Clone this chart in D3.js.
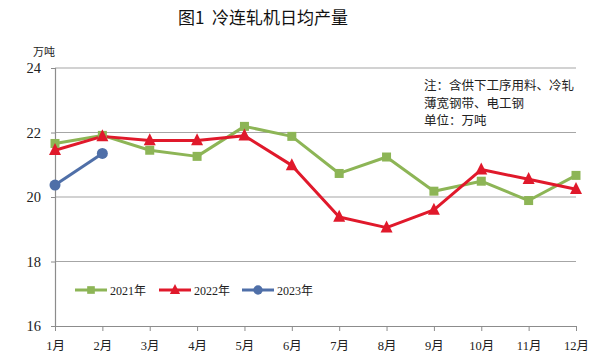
<!DOCTYPE html>
<html><head><meta charset="utf-8">
<script src="https://cdn.jsdelivr.net/npm/d3@7"></script>
<style>body{margin:0;background:#fff}svg{display:block}</style>
</head><body>
<svg id="c" width="600" height="360"></svg>
<script>
const months = ["1月","2月","3月","4月","5月","6月","7月","8月","9月","10月","11月","12月"];
const y2021 = [21.66,21.91,21.45,21.26,22.19,21.88,20.73,21.24,20.18,20.49,19.89,20.67];
const y2022 = [21.45,21.88,21.75,21.75,21.9,20.98,19.38,19.05,19.6,20.85,20.55,20.24];
const y2023 = [20.37,21.35];
const yTicks = [16,18,20,22,24];
const seriesNames = ["2021年","2022年","2023年"];

const svg = d3.select("#c");
const x = d3.scalePoint().domain(months).range([55,576]);
const y = d3.scaleLinear().domain([16,24]).range([326,68]);
const serif = "'Liberation Serif','Noto Sans CJK SC',serif";
const cjk = "'Noto Sans CJK SC',sans-serif";

// gridlines
svg.append("g").selectAll("line").data(yTicks.filter(d=>d>16)).join("line")
  .attr("x1",55).attr("x2",576).attr("y1",d=>y(d)).attr("y2",d=>y(d))
  .attr("stroke","#a6a6a6").attr("stroke-width",1.2);

// axes
const ya = svg.append("g").attr("transform","translate(55,0)")
  .call(d3.axisLeft(y).tickValues(yTicks).tickSize(4).tickFormat(d3.format("d")));
ya.select(".domain").attr("stroke","#8c8c8c").attr("stroke-width",1.2);
ya.selectAll(".tick line").attr("stroke","#8c8c8c");
ya.selectAll("text").attr("font-family",serif).attr("font-size",14.5).attr("fill","#222").attr("x",-14);

const xa = svg.append("g").attr("transform","translate(0,326)")
  .call(d3.axisBottom(x).tickSize(5).tickSizeOuter(0));
xa.select(".domain").attr("stroke","#8c8c8c").attr("stroke-width",1.2);
xa.selectAll(".tick line").attr("stroke","#8c8c8c");
xa.selectAll("text").attr("font-family",serif).attr("font-size",12.5).attr("fill","#222").attr("dy","1.25em");

const colors = ["#8db556","#e0192b","#4f6fa8"];
const data = [y2021,y2022,y2023];
const line = d3.line().x((d,i)=>x(months[i])).y(d=>y(d));

data.forEach((arr,k)=>{
  svg.append("path").attr("d",line(arr)).attr("fill","none")
    .attr("stroke",colors[k]).attr("stroke-width",3).attr("stroke-linejoin","round");
});
function marker(g,k,cx,cy,scale){
  scale = scale||1;
  if(k===0){
    const s=9*scale;
    g.append("rect").attr("x",cx-s/2).attr("y",cy-s/2).attr("width",s).attr("height",s).attr("fill",colors[0]);
  } else if(k===1){
    const s=12*scale;
    g.append("path").attr("d",`M${cx},${cy-s*0.6}L${cx+s/2},${cy+s*0.4}L${cx-s/2},${cy+s*0.4}Z`).attr("fill",colors[1]);
  } else {
    g.append("circle").attr("cx",cx).attr("cy",cy).attr("r",5.5*scale).attr("fill",colors[2]);
  }
}
const mg = svg.append("g");
data.forEach((arr,k)=>{
  arr.forEach((v,i)=>marker(mg,k,x(months[i]),y(v)));
});

// legend
const lx = [75,159,242];
const lg = svg.append("g");
seriesNames.forEach((n,k)=>{
  const ly=290;
  lg.append("line").attr("x1",lx[k]).attr("x2",lx[k]+32).attr("y1",ly).attr("y2",ly)
    .attr("stroke",colors[k]).attr("stroke-width",3);
  marker(lg,k,lx[k]+16,ly,0.85);
  lg.append("text").attr("x",lx[k]+35).attr("y",ly+4.5).text(n)
    .attr("font-family",serif).attr("font-size",12).attr("fill","#222");
});

// titles
svg.append("text").attr("x",178).attr("y",24).attr("xml:space","preserve")
  .attr("font-family",cjk).attr("font-size",17).attr("fill","#111").text("图1\u00a0 冷连轧机日均产量");
svg.append("text").attr("x",33).attr("y",56)
  .attr("font-family",cjk).attr("font-size",11).attr("fill","#222").text("万吨");

const notes = ["注：含供下工序用料、冷轧","薄宽钢带、电工钢","单位：万吨"];
svg.append("g").selectAll("text").data(notes).join("text")
  .attr("x",424).attr("y",(d,i)=>90+i*17.5)
  .attr("font-family",cjk).attr("font-size",12.5).attr("fill","#222").text(d=>d);
</script>
</body></html>
